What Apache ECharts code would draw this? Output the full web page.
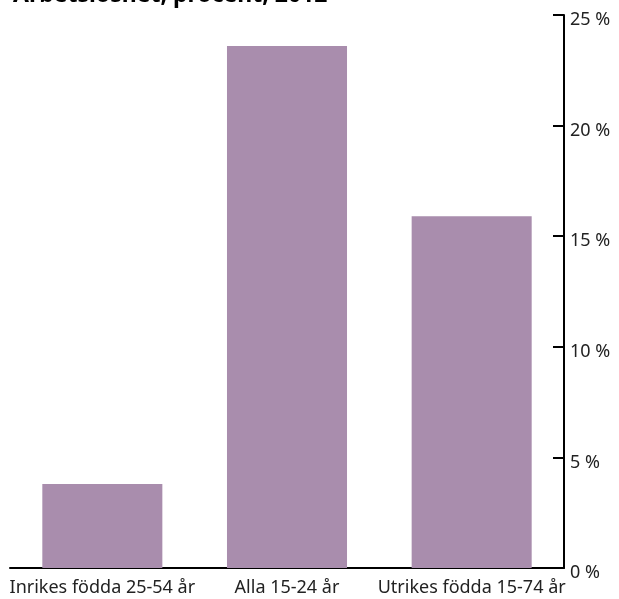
<!DOCTYPE html>
<html>
<head>
<meta charset="utf-8">
<script src="https://cdn.jsdelivr.net/npm/echarts@6/dist/echarts.min.js"></script>
<style>
  html, body { margin: 0; padding: 0; background: #fff; }
  #chart { width: 619px; height: 599px; }
</style>
</head>
<body>
<div id="chart"></div>
<script>
// data
var categories = ['Inrikes födda 25-54 år', 'Alla 15-24 år', 'Utrikes födda 15-74 år'];
var arbetsloshet = [3.8, 23.6, 15.9];
var yTicks = [0, 5, 10, 15, 20, 25];

var myChart = echarts.init(document.getElementById('chart'));

var option = {
    animation: false,
    title: {
        text: 'Arbetslöshet, procent, 2012',
        left: 8,
        top: -21,
        textStyle: {
            fontFamily: 'Noto Sans',
            fontWeight: 'bold',
            fontSize: 23,
            color: '#000'
        }
    },
    grid: {
        left: 10,
        right: 55,
        top: 15,
        bottom: 31
    },
    xAxis: {
        type: 'category',
        data: categories,
        axisLine: { lineStyle: { color: '#000', width: 2 } },
        axisTick: { show: false },
        axisLabel: {
            interval: 0,
            margin: 11,
            fontFamily: 'Noto Sans',
            fontSize: 18,
            color: '#222'
        }
    },
    yAxis: {
        type: 'value',
        position: 'right',
        min: yTicks[0],
        max: yTicks[yTicks.length - 1],
        interval: 5,
        splitLine: { show: false },
        axisLine: { show: true, lineStyle: { color: '#000', width: 2 } },
        axisTick: { show: true, inside: true, length: 11, lineStyle: { color: '#000', width: 2 } },
        axisLabel: {
            margin: 6,
            verticalAlign: 'top',
            lineHeight: 10,
            fontFamily: 'Noto Sans',
            fontSize: 18,
            color: '#222',
            formatter: '{value} %'
        }
    },
    series: [
        {
            type: 'bar',
            data: arbetsloshet,
            barWidth: '65%',
            itemStyle: { color: '#a98dad' }
        }
    ]
};

myChart.setOption(option);
</script>
</body>
</html>
